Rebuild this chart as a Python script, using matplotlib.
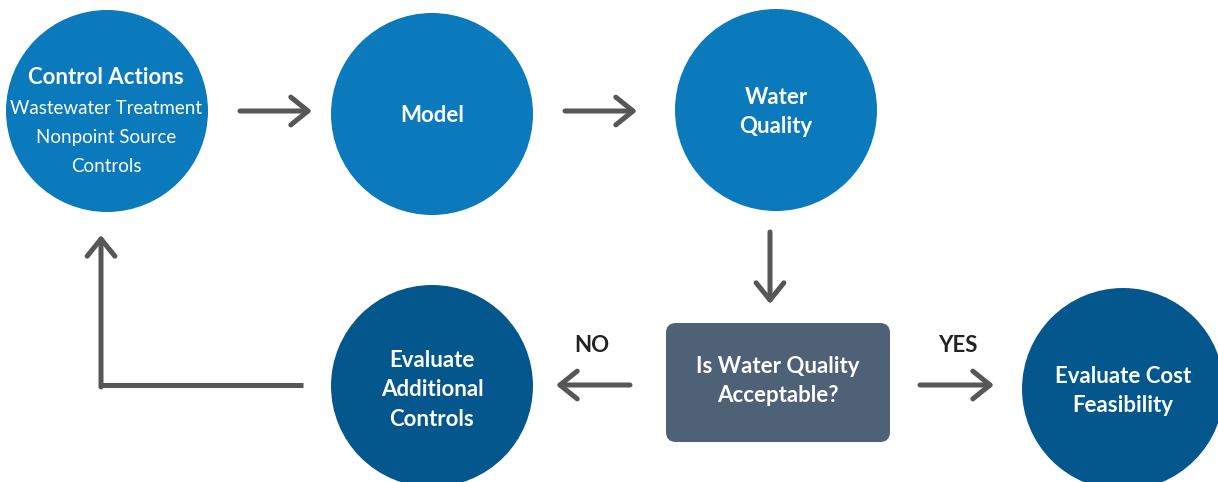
import matplotlib.pyplot as plt
from matplotlib.patches import Circle, FancyBboxPatch

# node labels (title line, extra lines)
circle_titles = ["Control Actions", "Model", "Water\nQuality",
                 "Evaluate\nAdditional\nControls", "Evaluate Cost\nFeasibility"]
control_details = ["Wastewater Treatment", "Nonpoint Source", "Controls"]
decision_label = "Is Water Quality\nAcceptable?"
branch_labels = ["NO", "YES"]

# layout in pixels (y grows downward)
circle_xy = [(107, 111), (432, 114), (776, 110), (432, 386), (1123, 389)]
label_y = [78, 115, 112, 390, 391]
circle_r = 101
circle_colors = ["#0a7abd", "#0a7abd", "#0a7abd", "#04578c", "#04578c"]
arrow_color = "#575757"

fig = plt.figure(figsize=(12.18, 4.82), dpi=100)
ax = fig.add_axes([0, 0, 1, 1])
ax.set_xlim(0, 1218)
ax.set_ylim(482, 0)
ax.axis("off")

for (x, y), c in zip(circle_xy, circle_colors):
    ax.add_patch(Circle((x, y), circle_r, color=c, lw=0))

font = "Lato"
# Control Actions circle
ax.text(106, label_y[0], circle_titles[0], ha="center", va="center", color="white",
        fontsize=16, fontweight="bold", family=font)
for i, line in enumerate(control_details):
    ax.text(106, 108 + 29.5 * i, line, ha="center", va="center", color="white",
            fontsize=13.5, fontweight="normal", family=font)

for (x, _), ly, t in zip(circle_xy[1:], label_y[1:], circle_titles[1:]):
    ax.text(x, ly, t, ha="center", va="center", color="white",
            fontsize=16, fontweight="bold", family=font, linespacing=1.5)

# decision box
ax.add_patch(FancyBboxPatch((676, 333), 204, 99, boxstyle="round,pad=10,rounding_size=10",
                            fc="#4e6177", ec="none"))
ax.text(778, 381, decision_label, ha="center", va="center", color="white",
        fontsize=16, fontweight="bold", family=font, linespacing=1.5)

ax.text(592, 346, branch_labels[0], ha="center", va="center", color="#222222",
        fontsize=16, fontweight="bold", family=font)
ax.text(958, 346, branch_labels[1], ha="center", va="center", color="#222222",
        fontsize=16, fontweight="bold", family=font)

# arrows
aprops = dict(arrowstyle="->,head_length=0.62,head_width=0.5", lw=3.6,
              color=arrow_color, mutation_scale=20, shrinkA=0, shrinkB=0)
arrows = [((240, 111), (312, 111)), ((565, 111), (637, 111)),
          ((770, 232), (770, 304)), ((630, 385), (556, 385)),
          ((920, 385), (994, 385)), ((101, 387), (101, 235))]
for start, end in arrows:
    ax.annotate("", xy=end, xytext=start, arrowprops=aprops)
ax.plot([99.2, 303], [385, 385], color=arrow_color, lw=3.6, solid_capstyle="butt")

fig.savefig("out.png", dpi=100, facecolor="white")
